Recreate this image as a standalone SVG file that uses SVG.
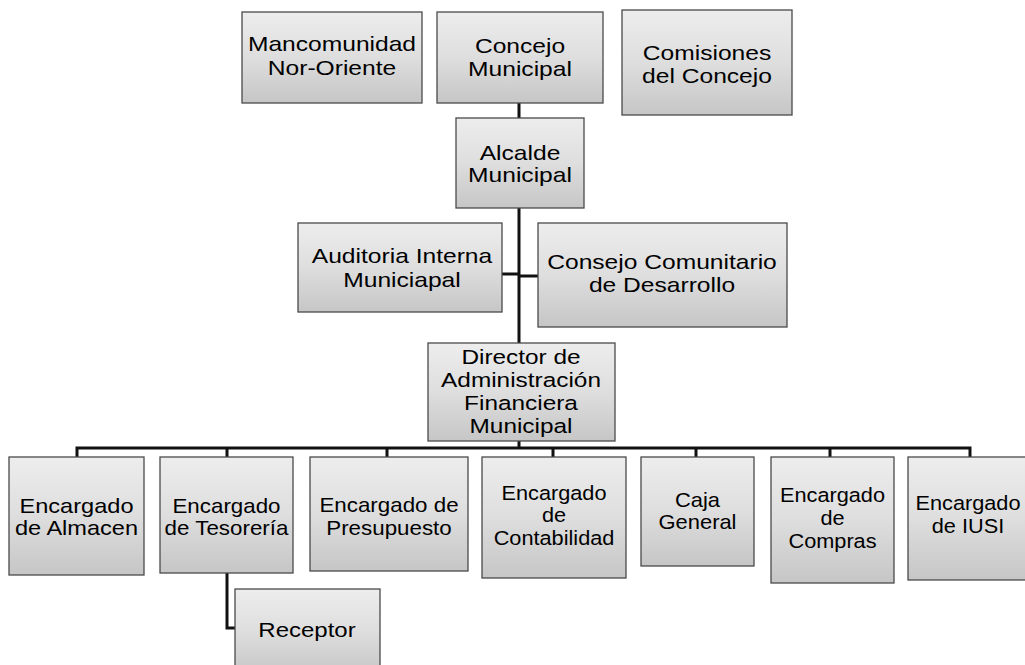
<svg xmlns="http://www.w3.org/2000/svg" width="1025" height="665" viewBox="0 0 1025 665">
<defs>
<linearGradient id="g" x1="0" y1="0" x2="0" y2="1">
<stop offset="0" stop-color="#ededed"/>
<stop offset="0.5" stop-color="#dedede"/>
<stop offset="1" stop-color="#c6c6c6"/>
</linearGradient>
</defs>
<style>
.box{fill:url(#g);stroke:#4a4a4a;stroke-width:1.3}
.t{font-family:"Liberation Sans",Arial,sans-serif;font-size:20.5px;fill:#000;text-anchor:middle}
.c{fill:none;stroke:#111;stroke-width:3}
</style>
<rect width="1025" height="665" fill="#ffffff"/>
<g id="connectors">
<path class="c" d="M519,103 V118"/>
<path class="c" d="M519,208 V343"/>
<path class="c" d="M502,274 H519"/>
<path class="c" d="M519,276 H538"/>
<path class="c" d="M519,441 V448"/>
<path class="c" d="M77,457 V448 H970 V457"/>
<path class="c" d="M227,448 V457"/>
<path class="c" d="M387,448 V457"/>
<path class="c" d="M553,448 V457"/>
<path class="c" d="M696,448 V457"/>
<path class="c" d="M830,448 V457"/>
<path class="c" d="M227,573 V628 H235"/>
</g>
<g id="mancomunidad">
<rect class="box" x="242" y="12" width="180" height="91"/>
<text class="t" transform="matrix(1.2 0 0 1 332 0)"><tspan x="0" y="51">Mancomunidad</tspan><tspan x="0" y="75">Nor-Oriente</tspan></text>
</g>
<g id="concejo">
<rect class="box" x="437" y="12" width="166" height="91"/>
<text class="t" transform="matrix(1.2 0 0 1 520 0)"><tspan x="0" y="53">Concejo</tspan><tspan x="0" y="76">Municipal</tspan></text>
</g>
<g id="comisiones">
<rect class="box" x="622" y="10" width="170" height="105"/>
<text class="t" transform="matrix(1.2 0 0 1 707 0)"><tspan x="0" y="60">Comisiones</tspan><tspan x="0" y="83">del Concejo</tspan></text>
</g>
<g id="alcalde">
<rect class="box" x="456" y="118" width="128" height="90"/>
<text class="t" transform="matrix(1.2 0 0 1 520 0)"><tspan x="0" y="160">Alcalde</tspan><tspan x="0" y="182">Municipal</tspan></text>
</g>
<g id="auditoria">
<rect class="box" x="298" y="223" width="204" height="89"/>
<text class="t" transform="matrix(1.2 0 0 1 402 0)"><tspan x="0" y="263">Auditoria Interna</tspan><tspan x="0" y="287">Municiapal</tspan></text>
</g>
<g id="consejo">
<rect class="box" x="538" y="223" width="249" height="104"/>
<text class="t" transform="matrix(1.2 0 0 1 662 0)"><tspan x="0" y="269">Consejo Comunitario</tspan><tspan x="0" y="292">de Desarrollo</tspan></text>
</g>
<g id="director">
<rect class="box" x="428" y="343" width="187" height="98"/>
<text class="t" transform="matrix(1.19 0 0 1 521 0)"><tspan x="0" y="364">Director de</tspan><tspan x="0" y="387">Administración</tspan><tspan x="0" y="410">Financiera</tspan><tspan x="0" y="433">Municipal</tspan></text>
</g>
<g id="almacen">
<rect class="box" x="9" y="457" width="135" height="118"/>
<text class="t" transform="matrix(1.15 0 0 1 76.5 0)"><tspan x="0" y="513">Encargado</tspan><tspan x="0" y="535">de Almacen</tspan></text>
</g>
<g id="tesoreria">
<rect class="box" x="160" y="457" width="133" height="116"/>
<text class="t" transform="matrix(1.09 0 0 1 226.5 0)"><tspan x="0" y="513">Encargado</tspan><tspan x="0" y="535">de Tesorería</tspan></text>
</g>
<g id="presupuesto">
<rect class="box" x="310" y="457" width="158" height="114"/>
<text class="t" transform="matrix(1.09 0 0 1 389 0)"><tspan x="0" y="512">Encargado de</tspan><tspan x="0" y="535">Presupuesto</tspan></text>
</g>
<g id="contabilidad">
<rect class="box" x="482" y="457" width="144" height="121"/>
<text class="t" transform="matrix(1.06 0 0 1 554 0)"><tspan x="0" y="500">Encargado</tspan><tspan x="0" y="522">de</tspan><tspan x="0" y="545">Contabilidad</tspan></text>
</g>
<g id="caja">
<rect class="box" x="641" y="457" width="113" height="109"/>
<text class="t" transform="matrix(1.07 0 0 1 697.5 0)"><tspan x="0" y="507">Caja</tspan><tspan x="0" y="529">General</tspan></text>
</g>
<g id="compras">
<rect class="box" x="771" y="457" width="123" height="126"/>
<text class="t" transform="matrix(1.06 0 0 1 832.5 0)"><tspan x="0" y="502">Encargado</tspan><tspan x="0" y="525">de</tspan><tspan x="0" y="548">Compras</tspan></text>
</g>
<g id="iusi">
<rect class="box" x="908" y="457" width="124" height="123"/>
<text class="t" transform="matrix(1.06 0 0 1 968 0)"><tspan x="0" y="510">Encargado</tspan><tspan x="0" y="533">de IUSI</tspan></text>
</g>
<g id="receptor">
<rect class="box" x="235" y="589" width="145" height="85"/>
<text class="t" transform="matrix(1.17 0 0 1 307 0)"><tspan x="0" y="637">Receptor</tspan></text>
</g>
</svg>
